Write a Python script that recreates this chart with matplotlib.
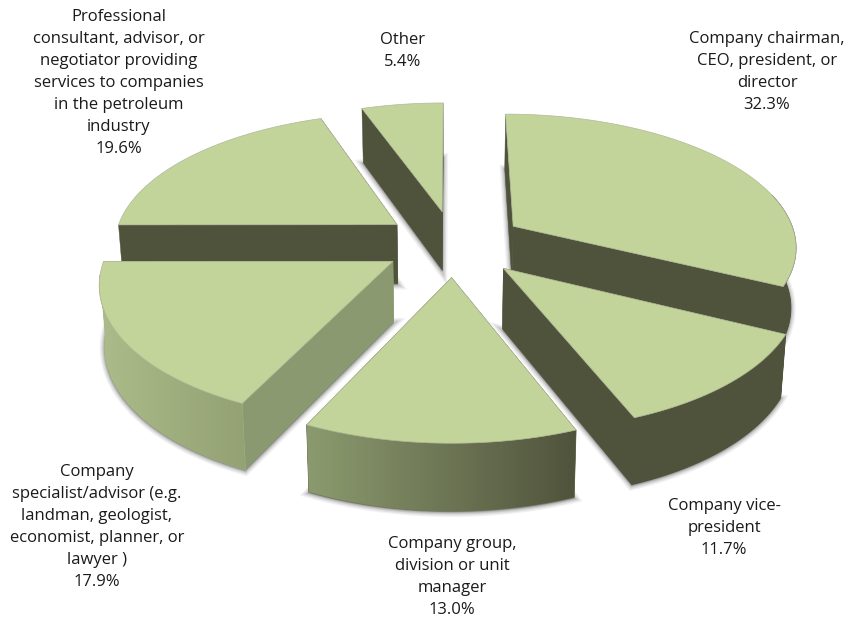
import numpy as np
import matplotlib
matplotlib.use('Agg')
import matplotlib.pyplot as plt
from matplotlib.patches import Polygon
from matplotlib.colors import LinearSegmentedColormap

# Survey respondents by job title, clockwise from 12 o'clock
categories = [
    'Company chairman,\nCEO, president, or\ndirector',
    'Company vice-\npresident',
    'Company group,\ndivision or unit\nmanager',
    'Company\nspecialist/advisor (e.g.\nlandman, geologist,\neconomist, planner, or\nlawyer )',
    'Professional\nconsultant, advisor, or\nnegotiator providing\nservices to companies\nin the petroleum\nindustry',
    'Other',
]
shares = [32.3, 11.7, 13.0, 17.9, 19.6, 5.4]

# label centres, pixels
label_x = [767, 724, 452, 97, 119, 403]
label_y = [72, 528, 577, 527, 83, 51]

TOP = '#c2d499'
DARK = '#50533c'
MID = '#8a996f'
# colour of the flat radial walls of each wedge
edge_cols = [DARK, DARK, DARK, MID, DARK, DARK]
# drawing order, back to front
order = [5, 4, 0, 3, 1, 2]

# projection of the pie plane to pixels
CX, CY = 450, 250
RX, RY = 286, 134
P = 0.14
EXPLODE = 0.25
SHIFT = (0.014, -0.05)
HEIGHT = 60


def project(X, Y):
    s = 1 / (1 - P * Y)
    return CX + RX * X * s, CY + RY * Y * s, s


def base_of(x, y, s):
    return CX + (x - CX) * 0.985, y + HEIGHT * (1 + (s - 1) * 0.65)


fig = plt.figure(figsize=(8.49, 6.26), dpi=100)
ax = fig.add_axes([0, 0, 1, 1])
ax.set_xlim(0, 849)
ax.set_ylim(626, 0)
ax.axis('off')

# lighting across the outer walls, left to right
wall_cmap = LinearSegmentedColormap.from_list('wall', [
    (0.0, '#acbb89'), (0.21, '#93a173'), (0.30, '#8b9a6e'),
    (0.68, '#50533c'), (1.0, '#50533c')])
grad = np.linspace(0, 1, 512).reshape(1, -1)

edges = np.cumsum([0] + shares) / sum(shares) * 2 * np.pi
z = 1
for i in order:
    a0, a1 = edges[i], edges[i + 1]
    mid = (a0 + a1) / 2
    ox = SHIFT[0] + EXPLODE * np.sin(mid)
    oy = SHIFT[1] - EXPLODE * np.cos(mid)
    t = np.linspace(a0, a1, 120)
    ax_, ay_, a_s = project(np.array([ox]), np.array([oy]))
    rx, ry, rs = project(ox + np.sin(t), oy - np.cos(t))
    top_x = np.r_[ax_, rx]
    top_y = np.r_[ay_, ry]
    top_s = np.r_[a_s, rs]
    bot_x, bot_y = base_of(top_x, top_y, top_s)

    # soft shadow round the foot of the wedge
    for lw, alpha in [(7, 0.07), (5, 0.10), (3, 0.14), (1.5, 0.18)]:
        ax.add_patch(Polygon(np.c_[bot_x, bot_y + 1], closed=True, fc='#444444',
                             ec='#444444', lw=lw, alpha=alpha, zorder=z))
    z += 1

    # flat walls along both radii
    for k in (1, -1):
        ax.add_patch(Polygon([(top_x[0], top_y[0]), (top_x[k], top_y[k]),
                              (bot_x[k], bot_y[k]), (bot_x[0], bot_y[0])],
                             fc=edge_cols[i], ec=edge_cols[i], lw=0.3, zorder=z))
        z += 1

    # curved outer wall, only the part facing the front, shaded by x position
    deg = np.degrees(t)
    front = (deg > 75) & (deg < 265)
    if front.sum() > 1:
        under = wall_cmap((rx[front].mean() - 100) / 700)
        wall = Polygon(np.r_[np.c_[rx[front], ry[front]],
                             np.c_[bot_x[1:][front], bot_y[1:][front]][::-1]],
                       closed=True, fc=under, ec=under, lw=0.6, zorder=z)
        ax.add_patch(wall)
        z += 1
        im = ax.imshow(grad, extent=(100, 800, 626, 0), cmap=wall_cmap, aspect='auto',
                       vmin=0, vmax=1, zorder=z)
        im.set_clip_path(wall)
        z += 1

    ax.add_patch(Polygon(np.c_[top_x, top_y], closed=True, fc=TOP, ec='#b0b99a',
                         lw=0.5, zorder=z))
    z += 1

ax.set_xlim(0, 849)
ax.set_ylim(626, 0)

for name, val, x, y in zip(categories, shares, label_x, label_y):
    ax.text(x, y, f'{name}\n{val:.1f}%', ha='center', va='center', fontsize=12,
            family='Open Sans', color='#1a1a1a', linespacing=1.49, zorder=z)

fig.savefig('out.png', dpi=100)
